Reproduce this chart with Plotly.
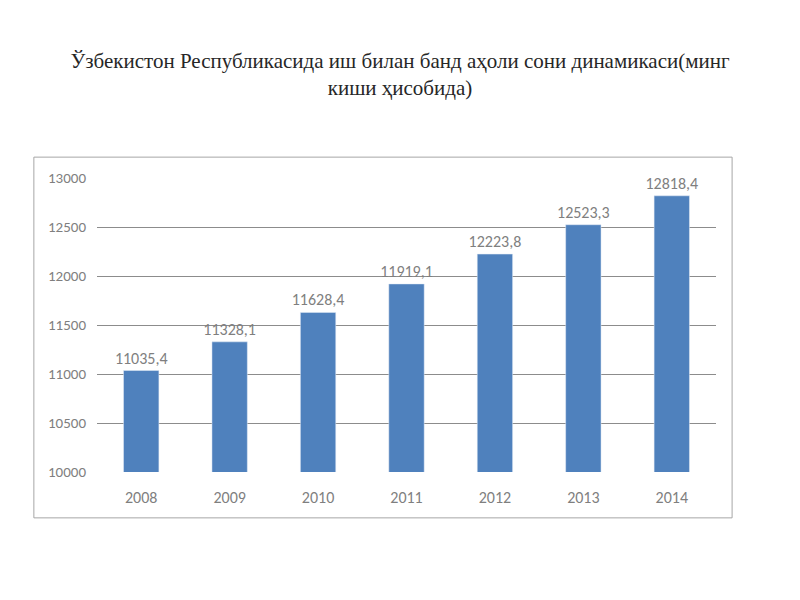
import plotly.graph_objects as go

years = ["2008", "2009", "2010", "2011", "2012", "2013", "2014"]
values = [11035.4, 11328.1, 11628.4, 11919.1, 12223.8, 12523.3, 12818.4]
labels = ["11035,4", "11328,1", "11628,4", "11919,1", "12223,8", "12523,3", "12818,4"]
yticks = [10000, 10500, 11000, 11500, 12000, 12500, 13000]

fig = go.Figure(go.Bar(
    x=years, y=values, text=labels, textposition="outside", constraintext="none",
    textfont=dict(family="Carlito, Liberation Sans", size=16, color="#7f7f7f"),
    marker_color="#4f81bd", cliponaxis=False,
))
fig.update_layout(
    width=800, height=600, paper_bgcolor="white", plot_bgcolor="white",
    margin=dict(l=89, r=92, t=170, b=136, autoexpand=False),
    bargap=0.6, showlegend=False,
    title=dict(text="Ўзбекистон Республикасида иш билан банд аҳоли сони динамикаси(минг<br>киши ҳисобида)",
               x=0.49, xanchor="center", y=0.90, yanchor="middle",
               font=dict(family="Times New Roman, Liberation Serif, serif", size=21, color="#262626")),
    xaxis=dict(showline=False, ticks="", ticklabelstandoff=14, automargin=False,
               tickfont=dict(family="Carlito, Liberation Sans", size=16, color="#7f7f7f")),
    yaxis=dict(range=[10000, 13000], tickvals=yticks, ticktext=[str(v) for v in yticks],
               showgrid=True, gridcolor="#8c8c8c", automargin=False,
               zeroline=False, ticks="", ticklabelstandoff=10,
               tickfont=dict(family="Carlito, Liberation Sans", size=15, color="#7f7f7f")),
    shapes=[dict(type="rect", xref="paper", yref="paper", x0=-0.102, x1=1.026, y0=-0.156, y1=1.071,
                 line=dict(color="#a6a6a6", width=1))],
)
fig.write_html("out.html")
